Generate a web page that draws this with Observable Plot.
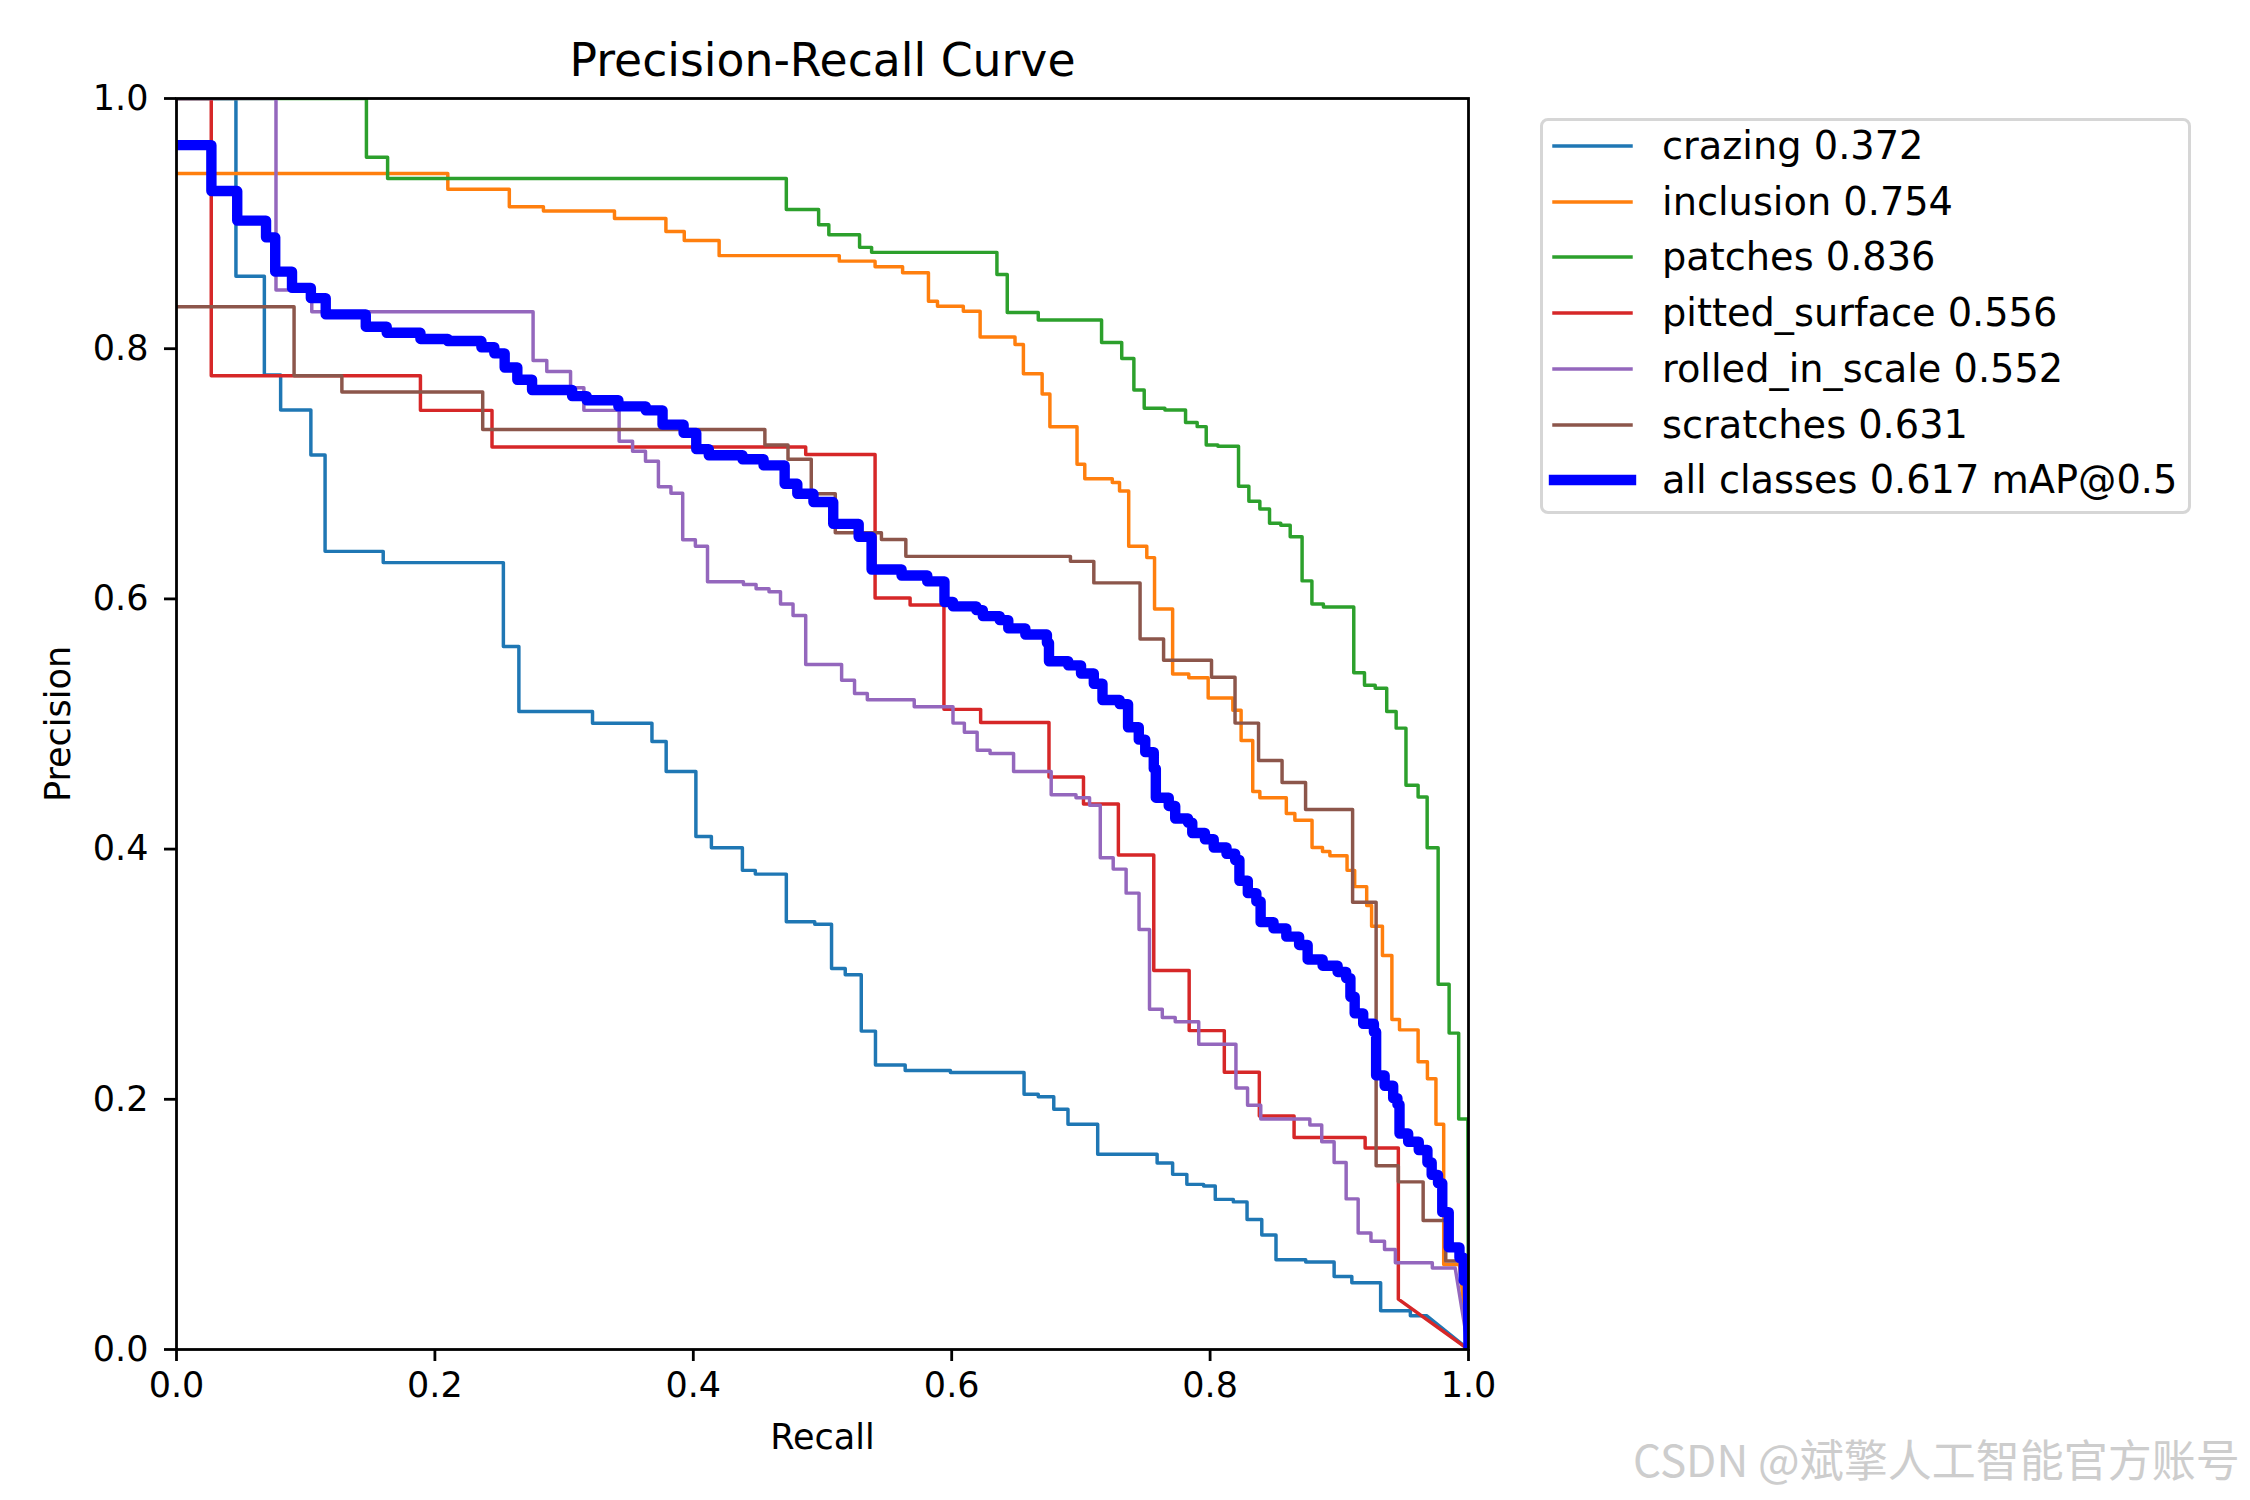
<!DOCTYPE html>
<html>
<head>
<meta charset="utf-8">
<script src="https://cdn.jsdelivr.net/npm/d3@7"></script>
<script src="https://cdn.jsdelivr.net/npm/@observablehq/plot@0.6"></script>
<style>
  html, body { margin: 0; padding: 0; background: #fff; }
  #wrap { position: relative; width: 2250px; height: 1500px; font-family: "DejaVu Sans", sans-serif; color: #000; }
  #legend { position: absolute; left: 1540px; top: 118px; width: 651px; height: 396px; box-sizing: border-box;
            border: 3px solid #d6d6d6; border-radius: 8px; background: rgba(255,255,255,0.8); }
  .row { position: absolute; left: 0; height: 56px; width: 640px; }
  .row svg { position: absolute; left: 0; top: 0; }
  .row span { position: absolute; left: 119px; top: 0; height: 56px; line-height: 56px; font-size: 38.3px; white-space: nowrap; }
  #wm { position: absolute; left: 1633px; top: 1436px; font-family: "Noto Sans CJK SC", sans-serif; font-size: 44px;
        line-height: 1; color: #cdcdcd; white-space: nowrap; }
</style>
</head>
<body>
<div id="wrap"><div id="legend"></div><div id="wm">CSDN @斌擎人工智能官方账号</div></div>
<script>
// ---- data: [recall, precision]; first = start, middle = step (drop at recall), last = linear end ----
const classNames = ["crazing", "inclusion", "patches", "pitted_surface", "rolled_in_scale", "scratches"];
const apValues = [0.372, 0.754, 0.836, 0.556, 0.552, 0.631];
const mapAll = 0.617;

const crazing = [[0,1],[0.046,0.858],[0.068,0.779],[0.0806,0.751],[0.104,0.715],[0.115,0.638],[0.160,0.629],
  [0.253,0.562],[0.265,0.510],[0.322,0.5006],[0.368,0.486],[0.379,0.462],[0.402,0.410],[0.414,0.401],[0.438,0.383],
  [0.448,0.380],[0.472,0.342],[0.494,0.340],[0.507,0.3045],[0.5176,0.2996],[0.530,0.2545],[0.541,0.2274],[0.564,0.223],
  [0.599,0.2215],[0.656,0.204],[0.667,0.202],[0.679,0.192],[0.690,0.180],[0.713,0.156],[0.759,0.149],[0.771,0.140],
  [0.782,0.132],[0.795,0.1307],[0.804,0.120],[0.818,0.118],[0.8286,0.104],[0.840,0.0915],[0.851,0.0717],[0.874,0.070],
  [0.896,0.0584],[0.9097,0.0534],[0.932,0.031],[0.955,0.027],[0.9675,0.027],[1,0]];

const inclusion = [[0,0.940],[0.210,0.9275],[0.2576,0.9135],[0.284,0.910],[0.339,0.904],[0.3788,0.8936],[0.393,0.8865],
  [0.420,0.8744],[0.513,0.870],[0.5407,0.8655],[0.562,0.8607],[0.582,0.838],[0.589,0.834],[0.609,0.830],[0.622,0.8094],
  [0.649,0.8033],[0.6555,0.780],[0.670,0.7638],[0.676,0.7376],[0.697,0.7077],[0.703,0.696],[0.7243,0.693],[0.7299,0.6862],
  [0.737,0.642],[0.751,0.633],[0.757,0.592],[0.771,0.540],[0.7835,0.537],[0.7985,0.5208],[0.8176,0.511],[0.824,0.4868],
  [0.833,0.446],[0.8385,0.441],[0.859,0.4285],[0.8656,0.423],[0.8789,0.4013],[0.887,0.398],[0.8927,0.3946],[0.906,0.383],
  [0.9119,0.370],[0.9212,0.355],[0.925,0.3384],[0.9334,0.315],[0.9407,0.2638],[0.9466,0.2555],[0.961,0.230],
  [0.9682,0.2165],[0.9748,0.180],[0.9808,0.068],[0.993,0.068],[1,0]];

const patches = [[0,1],[0.147,0.953],[0.1634,0.936],[0.472,0.9112],[0.497,0.899],[0.5049,0.891],[0.5287,0.881],
  [0.538,0.877],[0.635,0.8594],[0.643,0.829],[0.667,0.823],[0.716,0.805],[0.7316,0.7922],[0.741,0.767],[0.749,0.7524],
  [0.765,0.751],[0.781,0.741],[0.790,0.7377],[0.797,0.723],[0.806,0.722],[0.822,0.690],[0.830,0.678],[0.8385,0.6718],
  [0.846,0.6604],[0.8547,0.6588],[0.862,0.6496],[0.8712,0.6144],[0.8788,0.596],[0.8877,0.5935],[0.9112,0.541],
  [0.9195,0.531],[0.9278,0.5285],[0.9367,0.510],[0.944,0.4967],[0.9516,0.451],[0.961,0.4417],[0.968,0.401],
  [0.9765,0.292],[0.985,0.2529],[0.9924,0.1843],[0.9995,0.1843],[1,0]];

const pittedSurface = [[0,1],[0.0269,0.7784],[0.1888,0.7507],[0.2442,0.7214],[0.487,0.7155],[0.5407,0.6007],
  [0.5678,0.5951],[0.594,0.5117],[0.6224,0.5012],[0.6753,0.4576],[0.702,0.4361],[0.729,0.3953],[0.7564,0.3029],
  [0.7838,0.2549],[0.811,0.2217],[0.8381,0.1866],[0.865,0.1694],[0.920,0.1611],[0.9457,0.0402],[1,0]];

const rolledInScale = [[0,1],[0.077,0.847],[0.1047,0.8296],[0.276,0.7905],[0.2866,0.7817],[0.305,0.7687],[0.3153,0.7507],
  [0.3426,0.726],[0.353,0.718],[0.363,0.710],[0.373,0.6897],[0.3827,0.6845],[0.3918,0.6473],[0.4016,0.6421],[0.411,0.6137],
  [0.4388,0.6115],[0.4486,0.6082],[0.4586,0.6057],[0.4675,0.5959],[0.4772,0.5867],[0.487,0.5476],[0.5148,0.535],
  [0.5248,0.5243],[0.5347,0.5194],[0.571,0.5138],[0.601,0.5007],[0.6098,0.4934],[0.6197,0.4791],[0.6297,0.4765],
  [0.6479,0.462],[0.677,0.4434],[0.6962,0.4411],[0.7067,0.4351],[0.715,0.393],[0.725,0.384],[0.735,0.3648],[0.745,0.3357],
  [0.7531,0.272],[0.763,0.2654],[0.773,0.262],[0.7912,0.244],[0.82,0.2091],[0.829,0.1953],[0.8392,0.1843],[0.8772,0.1794],
  [0.8864,0.1661],[0.896,0.1495],[0.9053,0.1204],[0.9146,0.0932],[0.9245,0.0866],[0.935,0.080],[0.9434,0.0694],
  [0.972,0.0651],[0.9897,0.0651],[1,0]];

const scratches = [[0,0.8336],[0.091,0.7784],[0.128,0.7654],[0.237,0.7354],[0.4554,0.723],[0.4733,0.7116],[0.4913,0.684],
  [0.5099,0.6529],[0.5456,0.6474],[0.5645,0.634],[0.6919,0.630],[0.710,0.6128],[0.7458,0.568],[0.764,0.551],[0.8011,0.5373],
  [0.8193,0.5007],[0.8375,0.4709],[0.8557,0.4533],[0.8739,0.4317],[0.9103,0.3576],[0.9285,0.1469],[0.9457,0.134],
  [0.9649,0.1031],[0.9824,0.0707],[0.998,0.0707],[1,0]];

const allClasses = [[0,0.9627],[0.027,0.926],[0.047,0.9024],[0.0693,0.889],[0.0764,0.8616],[0.0894,0.8486],[0.104,0.8404],
  [0.1155,0.8274],[0.1465,0.8176],[0.1627,0.8127],[0.1888,0.8078],[0.21,0.8061],[0.236,0.8012],[0.246,0.7963],[0.254,0.785],
  [0.2638,0.7752],[0.2752,0.767],[0.3062,0.7621],[0.3175,0.7588],[0.342,0.7539],[0.3632,0.7507],[0.3762,0.7393],
  [0.3925,0.7327],[0.4023,0.7197],[0.412,0.7148],[0.4381,0.7116],[0.4544,0.7067],[0.4707,0.692],[0.4805,0.684],
  [0.493,0.6774],[0.5083,0.66],[0.528,0.6496],[0.538,0.6235],[0.5612,0.6187],[0.5811,0.614],[0.5944,0.5975],[0.601,0.594],
  [0.6191,0.591],[0.6241,0.5862],[0.6372,0.583],[0.6438,0.5764],[0.657,0.5715],[0.6737,0.5649],[0.6753,0.5502],
  [0.6902,0.5469],[0.7001,0.5404],[0.71,0.5322],[0.7167,0.5192],[0.73,0.5159],[0.7365,0.4974],[0.7448,0.4875],
  [0.7498,0.4775],[0.7564,0.4643],[0.758,0.4411],[0.768,0.4345],[0.773,0.4245],[0.7829,0.4212],[0.7862,0.4129],
  [0.796,0.4079],[0.8028,0.4013],[0.8127,0.3963],[0.8194,0.3913],[0.8227,0.3747],[0.8292,0.3648],[0.8358,0.3582],
  [0.8391,0.3416],[0.8491,0.3366],[0.859,0.33],[0.8689,0.3234],[0.8755,0.3118],[0.8871,0.3068],[0.8987,0.3018],
  [0.9053,0.2969],[0.9086,0.282],[0.9119,0.2687],[0.9185,0.2604],[0.9268,0.2538],[0.9285,0.2191],[0.9351,0.2108],
  [0.9417,0.2009],[0.945,0.1959],[0.9466,0.1727],[0.9533,0.1661],[0.9615,0.1595],[0.9682,0.1495],[0.9715,0.1396],
  [0.9764,0.133],[0.9797,0.1098],[0.9847,0.0965],[0.9847,0.0816],[0.993,0.0733],[0.9963,0.0551],[0.9996,0.0469],[1,0]];

const tickValues = [0, 0.2, 0.4, 0.6, 0.8, 1.0];

// ---- styles ----
const classColors = ["#1f77b4", "#ff7f0e", "#2ca02c", "#d62728", "#9467bd", "#8c564b"];
const allColor = "#0000ff";
const thin = 3.47, thick = 10.4;

function stepVertices(list) {
  const out = [list[0]];
  let prev = list[0][1];
  for (let i = 1; i < list.length - 1; i++) {
    const [r, p] = list[i];
    out.push([r, prev], [r, p]);
    prev = p;
  }
  out.push(list[list.length - 1]);
  return out;
}

const classSeries = [crazing, inclusion, patches, pittedSurface, rolledInScale, scratches];
const labels = classNames.map((n, i) => `${n} ${apValues[i].toFixed(3)}`);
const allLabel = `all classes ${mapAll.toFixed(3)} mAP@0.5`;

const lineMarks = classSeries.map((s, i) =>
  Plot.line(stepVertices(s), {x: d => d[0], y: d => d[1], stroke: classColors[i], strokeWidth: thin,
    strokeLinejoin: "round", strokeLinecap: "square", clip: true}));
lineMarks.push(Plot.line(stepVertices(allClasses), {x: d => d[0], y: d => d[1], stroke: allColor, strokeWidth: thick,
  strokeLinejoin: "round", strokeLinecap: "butt", clip: true}));

const chart = Plot.plot({
  width: 2250, height: 1500,
  marginLeft: 176, marginRight: 782, marginTop: 98, marginBottom: 151,
  x: {domain: [0, 1]},
  y: {domain: [0, 1]},
  style: {fontFamily: "DejaVu Sans", fontSize: "35px", color: "#000", background: "transparent", overflow: "visible"},
  marks: [
    ...lineMarks,
    Plot.frame({stroke: "#000", strokeWidth: 2.8}),
    Plot.axisX({ticks: tickValues, tickFormat: d3.format(".1f"), tickSize: 12, tickPadding: 11, strokeWidth: 2.8,
      label: null, fontSize: 35, fill: "#000"}),
    Plot.axisY({ticks: tickValues, tickFormat: d3.format(".1f"), tickSize: 12, tickPadding: 16, strokeWidth: 2.8,
      label: null, fontSize: 35, fill: "#000"}),
    Plot.text(["Precision-Recall Curve"], {frameAnchor: "top", dy: -23, lineAnchor: "bottom", fontSize: 45.7, fill: "#000"}),
    Plot.text(["Recall"], {frameAnchor: "bottom", dy: 99, lineAnchor: "bottom", fontSize: 35, fill: "#000"}),
    Plot.text(["Precision"], {frameAnchor: "left", dx: -107, rotate: -90, textAnchor: "middle", lineAnchor: "bottom",
      fontSize: 35, fill: "#000"})
  ]
});
chart.style.position = "absolute";
chart.style.left = "0px";
chart.style.top = "0px";
const wrap = document.getElementById("wrap");
wrap.insertBefore(chart, wrap.firstChild);

// ---- legend (HTML, outside the axes) ----
const legend = document.getElementById("legend");
const entries = labels.map((t, i) => ({t, c: classColors[i], w: thin})).concat([{t: allLabel, c: allColor, w: thick}]);
entries.forEach((e, i) => {
  const row = document.createElement("div");
  row.className = "row";
  row.style.top = (25 + i * 55.7 - 28) + "px";
  const ns = "http://www.w3.org/2000/svg";
  const svg = document.createElementNS(ns, "svg");
  svg.setAttribute("width", "110"); svg.setAttribute("height", "56");
  const ln = document.createElementNS(ns, "line");
  ln.setAttribute("x1", "11"); ln.setAttribute("x2", "88");
  ln.setAttribute("y1", "28"); ln.setAttribute("y2", "28");
  ln.setAttribute("stroke", e.c); ln.setAttribute("stroke-width", e.w);
  ln.setAttribute("stroke-linecap", "square");
  svg.appendChild(ln);
  const span = document.createElement("span");
  span.textContent = e.t;
  row.appendChild(svg); row.appendChild(span);
  legend.appendChild(row);
});
</script>
</body>
</html>
